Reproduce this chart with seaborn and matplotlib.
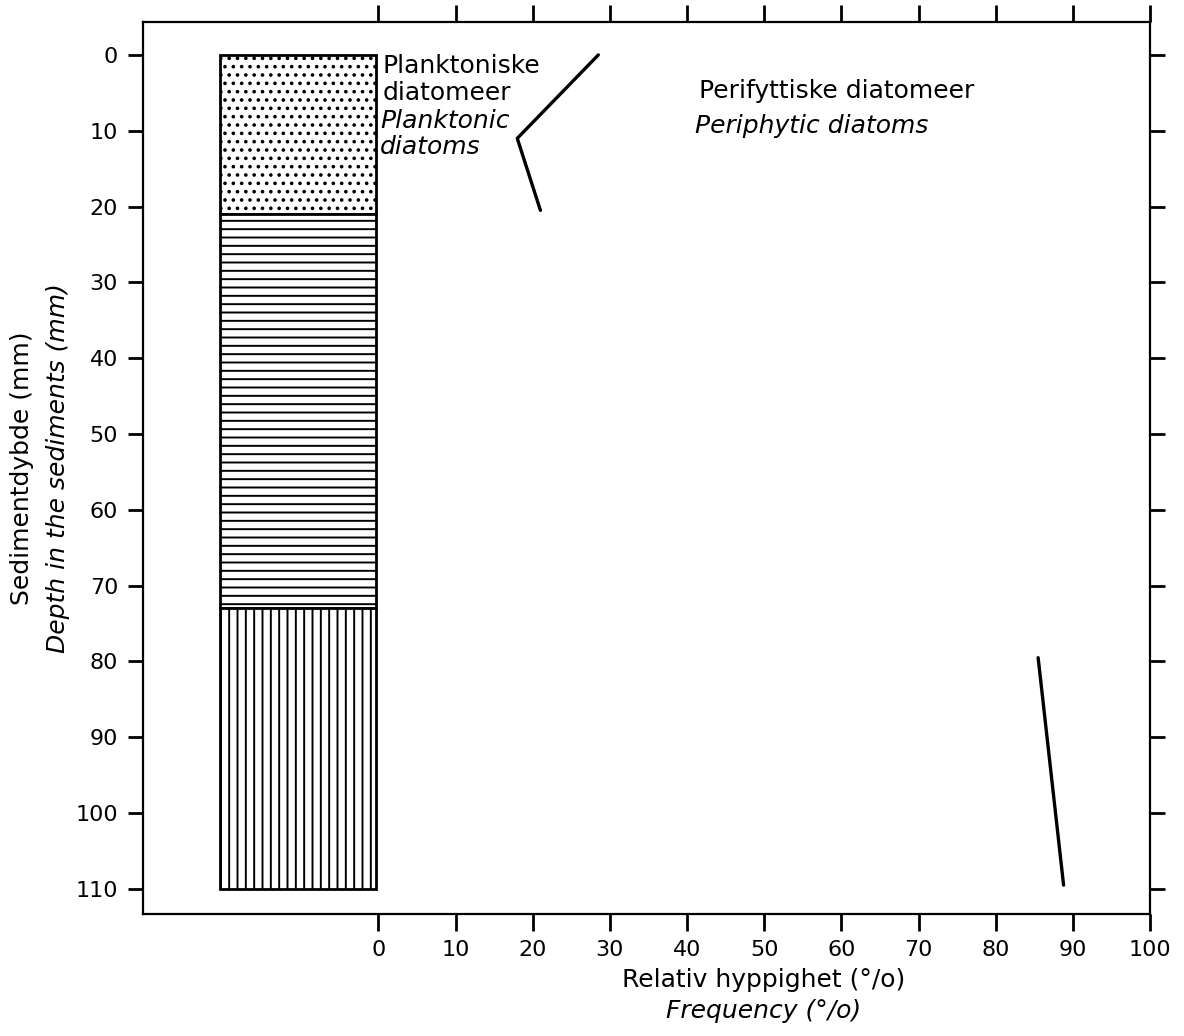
import matplotlib
matplotlib.use('Agg')
import matplotlib.pyplot as plt
import seaborn as sns
import pandas as pd

# stratigraphic column (depth in mm)
layer_tops = [0, 21, 73]
layer_bottoms = [21, 73, 110]
layer_hatches = ['..', '--', '||']
column_left = -20.5
column_right = -0.3

# planktonic diatoms frequency curve
plankt_freq = [28.5, 18.0, 21.0]
plankt_depth = [0, 11, 20.5]

# periphytic diatoms frequency curve
peri_freq = [85.5, 88.8]
peri_depth = [79.5, 109.5]

x_ticks = list(range(0, 101, 10))
y_ticks = list(range(0, 111, 10))

sns.set_style('ticks')
plt.rcParams['font.family'] = ['DejaVu Sans']
plt.rcParams['text.color'] = 'black'
plt.rcParams['hatch.linewidth'] = 1.4
plt.rcParams['hatch.color'] = 'black'

fig = plt.figure(figsize=(11.84, 10.36), dpi=100)
ax = fig.add_axes([0.1208, 0.1178, 0.9713 - 0.1208, 0.9788 - 0.1178])

# column
for top, bot, h in zip(layer_tops, layer_bottoms, layer_hatches):
    ax.bar((column_left + column_right) / 2, bot - top, bottom=top,
           width=column_right - column_left, color='white', edgecolor='black',
           linewidth=2.0, hatch=h, zorder=2)

df_p = pd.DataFrame({'freq': plankt_freq, 'depth': plankt_depth})
df_r = pd.DataFrame({'freq': peri_freq, 'depth': peri_depth})
sns.lineplot(data=df_p, x='freq', y='depth', sort=False, estimator=None,
             color='black', linewidth=2.4, ax=ax)
sns.lineplot(data=df_r, x='freq', y='depth', sort=False, estimator=None,
             color='black', linewidth=2.4, ax=ax)

ax.set_xlim(-30.5, 100)
ax.set_ylim(113.3, -4.35)
ax.set_xticks(x_ticks)
ax.set_yticks(y_ticks)
ax.set_xlabel('')
ax.set_ylabel('')
for sp in ax.spines.values():
    sp.set_linewidth(1.6)
    sp.set_color('black')
ax.tick_params(axis='both', which='both', direction='out', length=11, width=2,
               labelsize=16, colors='black', pad=7)
ax.tick_params(top=True, right=True, labeltop=False, labelright=False)
ax.tick_params(axis='x', which='both', top=True, length=12)

# annotations
fs = 18
ax.text(0.5, 2.4, 'Planktoniske', fontsize=fs, va='baseline', ha='left')
ax.text(0.5, 6.0, 'diatomeer', fontsize=fs, va='baseline', ha='left')
ax.text(0.2, 9.6, 'Planktonic', fontsize=fs, va='baseline', ha='left', style='italic')
ax.text(0.2, 13.0, 'diatoms', fontsize=fs, va='baseline', ha='left', style='italic')
ax.text(41.5, 5.7, 'Perifyttiske diatomeer', fontsize=fs, va='baseline', ha='left')
ax.text(41.0, 10.3, 'Periphytic diatoms', fontsize=fs, va='baseline', ha='left', style='italic')

fig.text(0.645, 0.0473, 'Relativ hyppighet (°/o)', fontsize=fs, ha='center', va='baseline')
fig.text(0.645, 0.0174, 'Frequency (°/o)', fontsize=fs, ha='center', va='baseline', style='italic')
fig.text(22 / 1184, 0.548, 'Sedimentdybde (mm)', fontsize=fs, rotation=90, ha='center', va='center')
fig.text(58 / 1184, 0.548, 'Depth in the sediments (mm)', fontsize=fs, rotation=90,
         ha='center', va='center', style='italic')

fig.savefig('out.png', dpi=100)
